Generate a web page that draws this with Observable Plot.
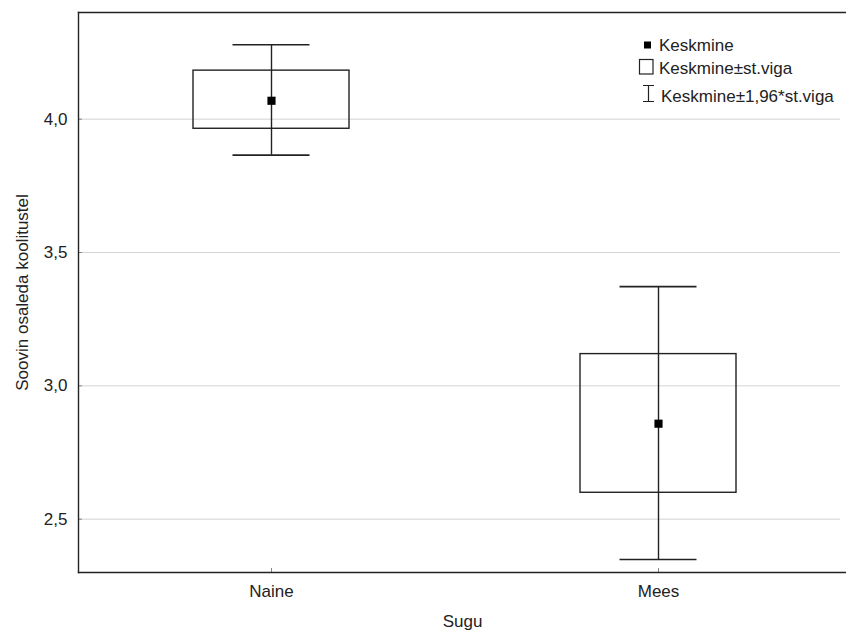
<!DOCTYPE html>
<html>
<head>
<meta charset="utf-8">
<script src="https://cdn.jsdelivr.net/npm/d3@7"></script>
<script src="https://cdn.jsdelivr.net/npm/@observablehq/plot@0.6"></script>
<style>
  html, body { margin: 0; padding: 0; background: #fff; }
  #wrap { position: relative; width: 846px; height: 635px; }
  #legend { position: absolute; left: 0; top: 0; pointer-events: none; }
  svg { font-family: "Liberation Sans", Arial, sans-serif; }
</style>
</head>
<body>
<div id="wrap"></div>
<script>
// Data
const categories = ["Naine", "Mees"];
const mean   = [4.069, 2.858];
const seLow  = [3.964, 2.599];
const seHigh = [4.182, 3.119];
const ciLow  = [3.865, 2.349];
const ciHigh = [4.279, 3.372];
const yTicks = [2.5, 3.0, 3.5, 4.0];
const legendLabels = ["Keskmine", "Keskmine±st.viga", "Keskmine±1,96*st.viga"];

const rows = categories.map((c, i) => ({
  sugu: c, mean: mean[i], seLow: seLow[i], seHigh: seHigh[i], ciLow: ciLow[i], ciHigh: ciHigh[i]
}));

const ink = "#222";
const fmt = d => d.toFixed(1).replace(".", ",");

const chart = Plot.plot({
  width: 846,
  height: 635,
  marginTop: 12,
  marginBottom: 63,
  marginLeft: 78,
  marginRight: 0,
  style: { fontSize: "17px", fontFamily: "'Liberation Sans', Arial, sans-serif", color: ink, background: "#fff" },
  x: { type: "band", domain: categories, paddingInner: 0.597, paddingOuter: 0.2907, align: 0.513 },
  y: { domain: [2.3, 4.4] },
  marks: [
    Plot.gridY(yTicks, { stroke: "#d4d4d4", strokeOpacity: 1, insetRight: 6 }),
    Plot.axisY(yTicks, { tickFormat: fmt, tickSize: -4, tickPadding: 15, stroke: "#888",
      label: "Soovin osaleda koolitustel", labelAnchor: "center", labelArrow: "none", labelOffset: 63, fontSize: 17 }),
    Plot.axisX({ tickSize: -4, tickPadding: 16, stroke: "#888",
      label: "Sugu", labelAnchor: "center", labelArrow: "none", labelOffset: 54, fontSize: 17 }),
    Plot.barY(rows, { x: "sugu", y1: "seLow", y2: "seHigh", fill: "none", stroke: ink, strokeWidth: 1.4 }),
    Plot.ruleX(rows, { x: "sugu", y1: "ciLow", y2: "ciHigh", stroke: ink, strokeWidth: 1.4 }),
    Plot.tickY(rows, { x: "sugu", y: "ciHigh", stroke: ink, strokeWidth: 1.6, insetLeft: 39.5, insetRight: 39.5 }),
    Plot.tickY(rows, { x: "sugu", y: "ciLow", stroke: ink, strokeWidth: 1.6, insetLeft: 39.5, insetRight: 39.5 }),
    Plot.dot(rows, { x: "sugu", y: "mean", symbol: "square", r: 4.6, fill: "#000", stroke: "none" }),
    Plot.frame({ anchor: "left", stroke: ink, strokeWidth: 1.4 }),
    Plot.frame({ anchor: "top", stroke: ink, strokeWidth: 1.4 }),
    Plot.frame({ anchor: "bottom", stroke: ink, strokeWidth: 1.4 })
  ]
});

const wrap = document.getElementById("wrap");
wrap.appendChild(chart);

// Legend overlay (inside the plot area, top right)
const lg = d3.create("svg").attr("id", "legend").attr("width", 846).attr("height", 120)
  .attr("font-family", "'Liberation Sans', Arial, sans-serif").attr("font-size", 17).attr("fill", ink);
// item 1: mean marker
lg.append("rect").attr("x", 644).attr("y", 41.5).attr("width", 7).attr("height", 7).attr("fill", "#000");
lg.append("text").attr("x", 659).attr("y", 51).text(legendLabels[0]);
// item 2: box
lg.append("rect").attr("x", 639.5).attr("y", 59.5).attr("width", 13.5).attr("height", 14.5)
  .attr("fill", "none").attr("stroke", ink).attr("stroke-width", 1.2);
lg.append("text").attr("x", 659).attr("y", 74).text(legendLabels[1]);
// item 3: whisker
const wx = 648.5;
lg.append("path").attr("d", `M${wx-5.5},85.5H${wx+5.5}M${wx},85.5V101.5M${wx-5.5},101.5H${wx+5.5}`)
  .attr("fill", "none").attr("stroke", ink).attr("stroke-width", 1.2);
lg.append("text").attr("x", 661).attr("y", 102).text(legendLabels[2]);
wrap.appendChild(lg.node());
</script>
</body>
</html>
